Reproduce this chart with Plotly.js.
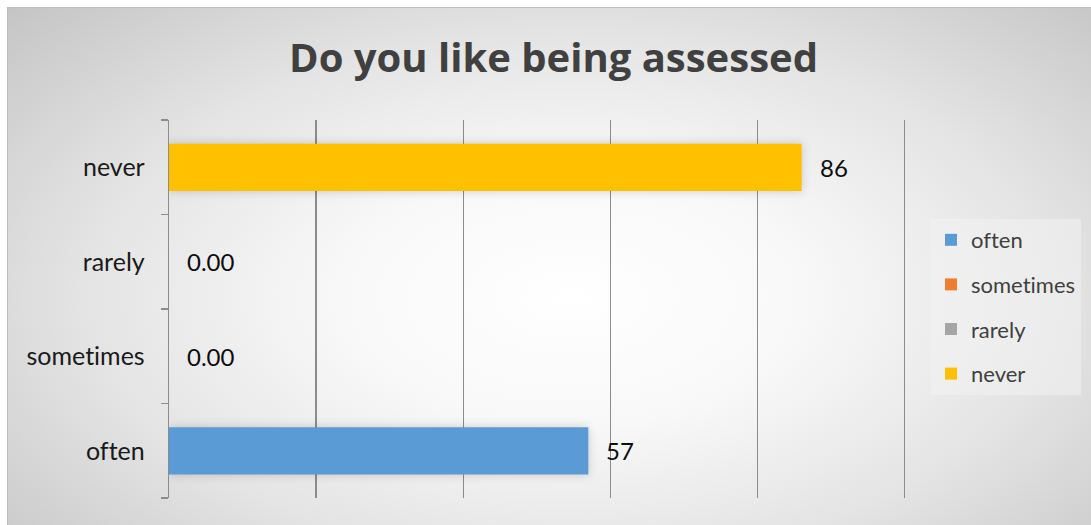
<!DOCTYPE html>
<html>
<head>
<meta charset="utf-8">
<script src="https://cdn.plot.ly/plotly-3.0.1.min.js"></script>
<style>
  html, body { margin: 0; padding: 0; background: #ffffff; }
  #wrap { position: relative; width: 1091px; height: 525px; overflow: hidden; }
  #bg { position: absolute; left: 7px; top: 7px; width: 1084px; height: 518px;
        background: radial-gradient(ellipse 72% 82% at 52% 56%, #ffffff 0%, #f8f8f8 30%, #e4e4e4 62%, #c4c4c4 100%);
        border-top: 1px solid #bdbdbd; border-left: 1px solid #bdbdbd; box-sizing: border-box; }
  #chart { position: absolute; left: 0; top: 0; width: 1091px; height: 525px; }
  #chart text { font-variant-ligatures: none !important; font-feature-settings: "liga" 0, "clig" 0, "dlig" 0 !important; }
  #chart .bars path { filter: drop-shadow(0px 0px 5px rgba(0,0,0,0.18)); }
</style>
</head>
<body>
<div id="wrap">
  <div id="bg"></div>
  <div id="chart"></div>
</div>
<script>
const categories = ['often', 'sometimes', 'rarely', 'never'];
const values = [57, 0, 0, 86];
const dataLabels = ['57', '0.00', '0.00', '86'];
const colors = ['#5b9bd5', '#ed7d31', '#a5a5a5', '#ffc000'];
const chartTitle = 'Do you like being assessed';

const FONT = 'Lato, "Open Sans", sans-serif';
const TITLE_FONT = '"Open Sans", Lato, sans-serif';

const traces = categories.map((c, i) => ({
  type: 'bar',
  orientation: 'h',
  name: c,
  legendgroup: c,
  x: [values[i]],
  y: [c],
  width: 0.5,
  marker: { color: colors[i], line: { width: 0 } },
  hoverinfo: 'x+y'
}));

const annotations = categories.map((c, i) => ({
  x: values[i],
  y: c,
  xref: 'x',
  yref: 'y',
  text: dataLabels[i],
  showarrow: false,
  xanchor: 'left',
  yanchor: 'middle',
  xshift: 16,
  font: { family: FONT, size: 24, color: '#0d0d0d' }
}));

const layout = {
  width: 1091,
  height: 525,
  paper_bgcolor: 'rgba(0,0,0,0)',
  plot_bgcolor: 'rgba(0,0,0,0)',
  margin: { l: 169, r: 179, t: 120, b: 27, pad: 0 },
  barmode: 'overlay',
  showlegend: true,
  title: {
    text: '<b>' + chartTitle + '</b>',
    x: 553.5 / 1091,
    xref: 'container',
    xanchor: 'center',
    y: 1 - 58 / 525,
    yref: 'container',
    yanchor: 'middle',
    font: { family: TITLE_FONT, size: 40, color: '#404040' }
  },
  xaxis: {
    range: [0, 101],
    dtick: 20,
    tick0: 0,
    showticklabels: false,
    showgrid: true,
    gridcolor: '#8c8c8c',
    gridwidth: 1.3,
    zeroline: false,
    showline: false,
    ticks: '',
    fixedrange: true
  },
  yaxis: {
    type: 'category',
    categoryorder: 'array',
    categoryarray: categories,
    range: [-0.5, 3.5],
    showline: true,
    linecolor: '#8c8c8c',
    linewidth: 1.3,
    ticks: 'outside',
    tickson: 'boundaries',
    ticklen: 7,
    tickcolor: '#8c8c8c',
    tickwidth: 1.3,
    ticklabelstandoff: 18,
    showgrid: false,
    zeroline: false,
    tickfont: { family: FONT, size: 25, color: '#1a1a1a' },
    fixedrange: true
  },
  legend: {
    x: 931 / 1091,
    xref: 'container',
    xanchor: 'left',
    y: 1 - 219 / 525,
    yref: 'container',
    yanchor: 'top',
    bgcolor: 'rgba(242,242,242,0.55)',
    borderwidth: 0,
    traceorder: 'grouped',
    itemsizing: 'constant',
    tracegroupgap: 13,
    font: { family: FONT, size: 22, color: '#404040' }
  },
  annotations: annotations
};

Plotly.newPlot('chart', traces, layout, { displayModeBar: false, staticPlot: true });
</script>
</body>
</html>
